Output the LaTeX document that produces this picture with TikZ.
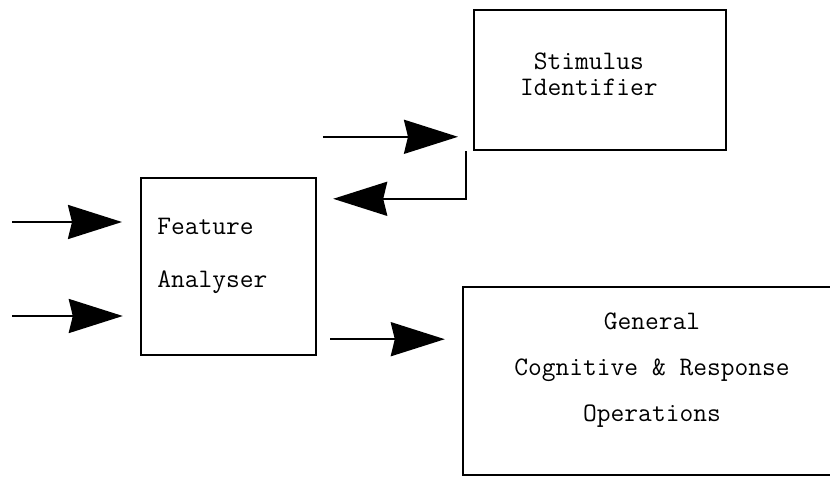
\documentclass[tikz,border=0pt]{standalone}
\usetikzlibrary{arrows.meta,positioning}
\tikzset{
  block/.style     = {draw, line width=1.5pt, inner sep=0pt},
  blocktext/.style = {font=\ttfamily\fontsize{19}{18}\selectfont, inner sep=0pt},
  bigarrow/.style  = {line width=1.7pt, -{Stealth[length=1.35cm,width=0.85cm,inset=0.1cm]}},
}

\begin{document}
\begin{tikzpicture}
    \useasboundingbox (0,0) rectangle (20.75,-11.95);
    \clip (0,0) rectangle (20.75,-11.95);

    % boxes
    \node [block, minimum width=6.3cm, minimum height=3.5cm] (stim) at (15.0,-2.0) {};
    \node [block, minimum width=4.375cm, minimum height=4.425cm] (feat) at (5.7125,-6.6625) {};
    \node [block, minimum width=9.925cm, minimum height=4.7cm] (gen) at (16.54,-9.525) {};

    % texts
    \node [blocktext, align=center] (stimlabel) at (14.72,-1.86) {Stimulus\\Identifier};
    \node [blocktext, align=left, anchor=west] (featlabel) at (3.925,-6.4) {Feature\\[19.7pt]Analyser};
    \node [blocktext, align=center] (genlabel) at (16.3,-9.25) {General\\[14.6pt]Cognitive \& Response\\[14.6pt]Operations};

    % arrow ends
    \coordinate (in1) at (0.3,-5.55);
    \coordinate (in1tip) at (3.05,-5.55);
    \coordinate (in2) at (0.3,-7.9);
    \coordinate (in2tip) at (3.07,-7.9);
    \coordinate (up) at (8.07,-3.42);
    \coordinate (uptip) at (11.45,-3.42);
    \coordinate (fbtip) at (8.33,-4.97);
    \coordinate (out) at (8.25,-8.48);
    \coordinate (outtip) at (11.12,-8.48);

    \path (in1) edge[bigarrow] (in1tip);
    \path (in2) edge[bigarrow] (in2tip);
    \path (up) edge[bigarrow] (uptip);
    \draw [bigarrow] ([xshift=-1.7mm]stim.south west) |- (fbtip);
    \path (out) edge[bigarrow] (outtip);
\end{tikzpicture}
\end{document}
